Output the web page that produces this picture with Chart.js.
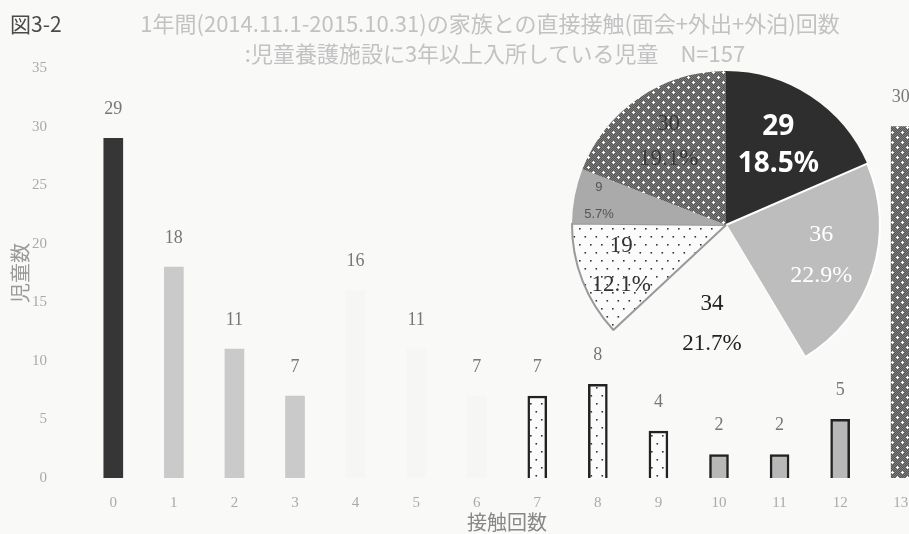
<!DOCTYPE html>
<html>
<head>
<meta charset="utf-8">
<script src="https://cdn.jsdelivr.net/npm/chart.js@4/dist/chart.umd.min.js"></script>
<style>
  html, body { margin: 0; padding: 0; background: #f9f9f8; overflow: hidden; }
  #wrap { position: relative; width: 909px; height: 534px; overflow: hidden; }
  #bars { position: absolute; left: 0; top: 0; }
  #pie { position: absolute; left: 566px; top: 65px; }
  .t { position: absolute; font-family: "Noto Sans CJK JP", sans-serif; white-space: nowrap; }
  #fig { left: 10px; top: 8px; font-size: 21px; color: #4a4a4a; }
  #title1 { left: 0; width: 980px; text-align: center; top: 6px; font-size: 22px; color: #c2c2c2; }
  #title2 { left: 0; width: 990px; text-align: center; top: 36px; font-size: 22px; color: #c2c2c2; }
</style>
</head>
<body>
<div id="wrap">
  <canvas id="bars" width="940" height="534"></canvas>
  <canvas id="pie" width="320" height="320"></canvas>
  <div class="t" id="fig">図3-2</div>
  <div class="t" id="title1">1年間(2014.11.1-2015.10.31)の家族との直接接触(面会+外出+外泊)回数</div>
  <div class="t" id="title2">:児童養護施設に3年以上入所している児童　N=157</div>
</div>
<script>
// 接触回数 (x categories) and 児童数
const contactCounts = ['0', '1', '2', '3', '4', '5', '6', '7', '8', '9', '10', '11', '12', '13'];
const childCounts = [29, 18, 11, 7, 16, 11, 7, 7, 8, 4, 2, 2, 5, 30];

// pie: grouped totals, clockwise from the top
const pieValues = [29, 36, 34, 19, 9, 30];
const piePercents = ['18.5%', '22.9%', '21.7%', '12.1%', '5.7%', '19.1%'];

// which pie group each bar belongs to
const barGroup = [0, 1, 1, 1, 2, 2, 2, 3, 3, 3, 4, 4, 4, 5];

function makePattern(w, h, bg, draw) {
    const c = document.createElement('canvas');
    c.width = w;
    c.height = h;
    const g = c.getContext('2d');
    g.fillStyle = bg;
    g.fillRect(0, 0, w, h);
    draw(g);
    return g.createPattern(c, 'repeat');
}

// dark gray with white crosses
const darkDots = makePattern(10, 10, '#555555', (g) => {
    g.fillStyle = '#7e7e7e';
    for (let x = 0; x < 10; x++) {
        for (let y = 0; y < 10; y++) {
            if ((x + y) % 2 === 0) g.fillRect(x, y, 1, 1);
        }
    }
    g.fillStyle = '#ffffff';
    [[2, 2], [7, 7]].forEach(([x, y]) => {
        g.fillRect(x - 1, y, 3, 1);
        g.fillRect(x, y - 1, 1, 3);
    });
});

// white with black dots
const lightDots = makePattern(11, 16, '#fbfbfb', (g) => {
    g.fillStyle = '#333';
    g.fillRect(2, 3, 1.6, 1.6);
    g.fillRect(7.5, 11, 1.6, 1.6);
});

const groupFill = ['#363636', '#cacaca', '#f6f6f5', lightDots, '#b8b8b8', darkDots];
const groupBorder = [0, 0, 0, 2.5, 2.5, 0];
const pieFill = ['#2e2e2e', '#bdbdbd', '#f9f9f8', lightDots, '#aaaaaa', darkDots];

const barLabels = {
    id: 'barLabels',
    afterDatasetsDraw(chart) {
        const ctx = chart.ctx;
        const meta = chart.getDatasetMeta(0);
        ctx.save();
        ctx.font = '18px "Liberation Serif"';
        ctx.fillStyle = '#777';
        ctx.textAlign = 'center';
        ctx.textBaseline = 'middle';
        meta.data.forEach((bar, i) => {
            ctx.fillText(String(childCounts[i]), bar.x, bar.y - 29);
        });
        ctx.restore();
    }
};

new Chart(document.getElementById('bars'), {
    type: 'bar',
    data: {
        labels: contactCounts,
        datasets: [{
            data: childCounts,
            backgroundColor: barGroup.map(g => groupFill[g]),
            borderColor: '#222',
            borderWidth: barGroup.map(g => groupBorder[g]),
            barThickness: 19
        }]
    },
    options: {
        responsive: false,
        animation: false,
        layout: { padding: { top: 68, right: 9, left: 0, bottom: 0 } },
        plugins: { legend: { display: false }, tooltip: { enabled: false } },
        scales: {
            x: {
                grid: { display: false },
                border: { display: false },
                ticks: { color: '#aaa', font: { family: 'Liberation Serif', size: 15 }, padding: 8 },
                title: {
                    display: true, text: '接触回数', color: '#888',
                    font: { family: 'Noto Sans CJK JP', size: 20 },
                    padding: { top: 0, bottom: 0 }
                },
                afterFit: (s) => { s.height = 56; }
            },
            y: {
                min: 0,
                max: 35,
                grid: { display: false },
                border: { display: false },
                ticks: { stepSize: 5, color: '#aaa', font: { family: 'Liberation Serif', size: 15 }, padding: 28 },
                title: {
                    display: true, text: '児童数', color: '#999',
                    font: { family: 'Noto Sans CJK JP', size: 20 },
                    padding: { top: 8, bottom: 0 }
                },
                afterFit: (s) => { s.width = 83; }
            }
        }
    },
    plugins: [barLabels]
});

// label placement inside each slice: radial fraction, line gap, font, colour
const pieText = [
    { r: 0.62, gap: 37, font: 'bold 28px "Noto Sans"', color: '#ffffff' },
    { r: 0.65, gap: 41, font: '24px "Liberation Serif"', color: '#ffffff' },
    { r: 0.65, gap: 40, font: '23px "Liberation Serif"', color: '#222222' },
    { r: 0.73, gap: 39, font: '23px "Liberation Serif"', color: '#333333' },
    { r: 0.84, gap: 27, font: '13px "Liberation Sans"', color: '#555555' },
    { r: 0.66, gap: 35, font: '23px "Liberation Serif"', color: '#3a3a3a' }
];

const pieLabels = {
    id: 'pieLabels',
    afterDatasetsDraw(chart) {
        const ctx = chart.ctx;
        const meta = chart.getDatasetMeta(0);
        ctx.save();
        ctx.textAlign = 'center';
        ctx.textBaseline = 'middle';
        meta.data.forEach((arc, i) => {
            const st = pieText[i];
            const mid = (arc.startAngle + arc.endAngle) / 2;
            const cx = arc.x + Math.cos(mid) * arc.outerRadius * st.r;
            const cy = arc.y + Math.sin(mid) * arc.outerRadius * st.r;
            ctx.font = st.font;
            ctx.fillStyle = st.color;
            ctx.fillText(String(pieValues[i]), cx, cy - st.gap / 2);
            ctx.fillText(piePercents[i], cx, cy + st.gap / 2);
        });
        ctx.restore();
    }
};

new Chart(document.getElementById('pie'), {
    type: 'pie',
    data: {
        labels: ['0回', '1-3回', '4-6回', '7-9回', '10-12回', '13回以上'],
        datasets: [{
            data: pieValues,
            backgroundColor: pieFill,
            borderColor: ['#fff', '#fff', '#fff', '#999', '#fff', '#fff'],
            borderWidth: [0, 2, 0, 2, 0, 0]
        }]
    },
    options: {
        responsive: false,
        animation: false,
        radius: 154,
        plugins: { legend: { display: false }, tooltip: { enabled: false } }
    },
    plugins: [pieLabels]
});
</script>
</body>
</html>
